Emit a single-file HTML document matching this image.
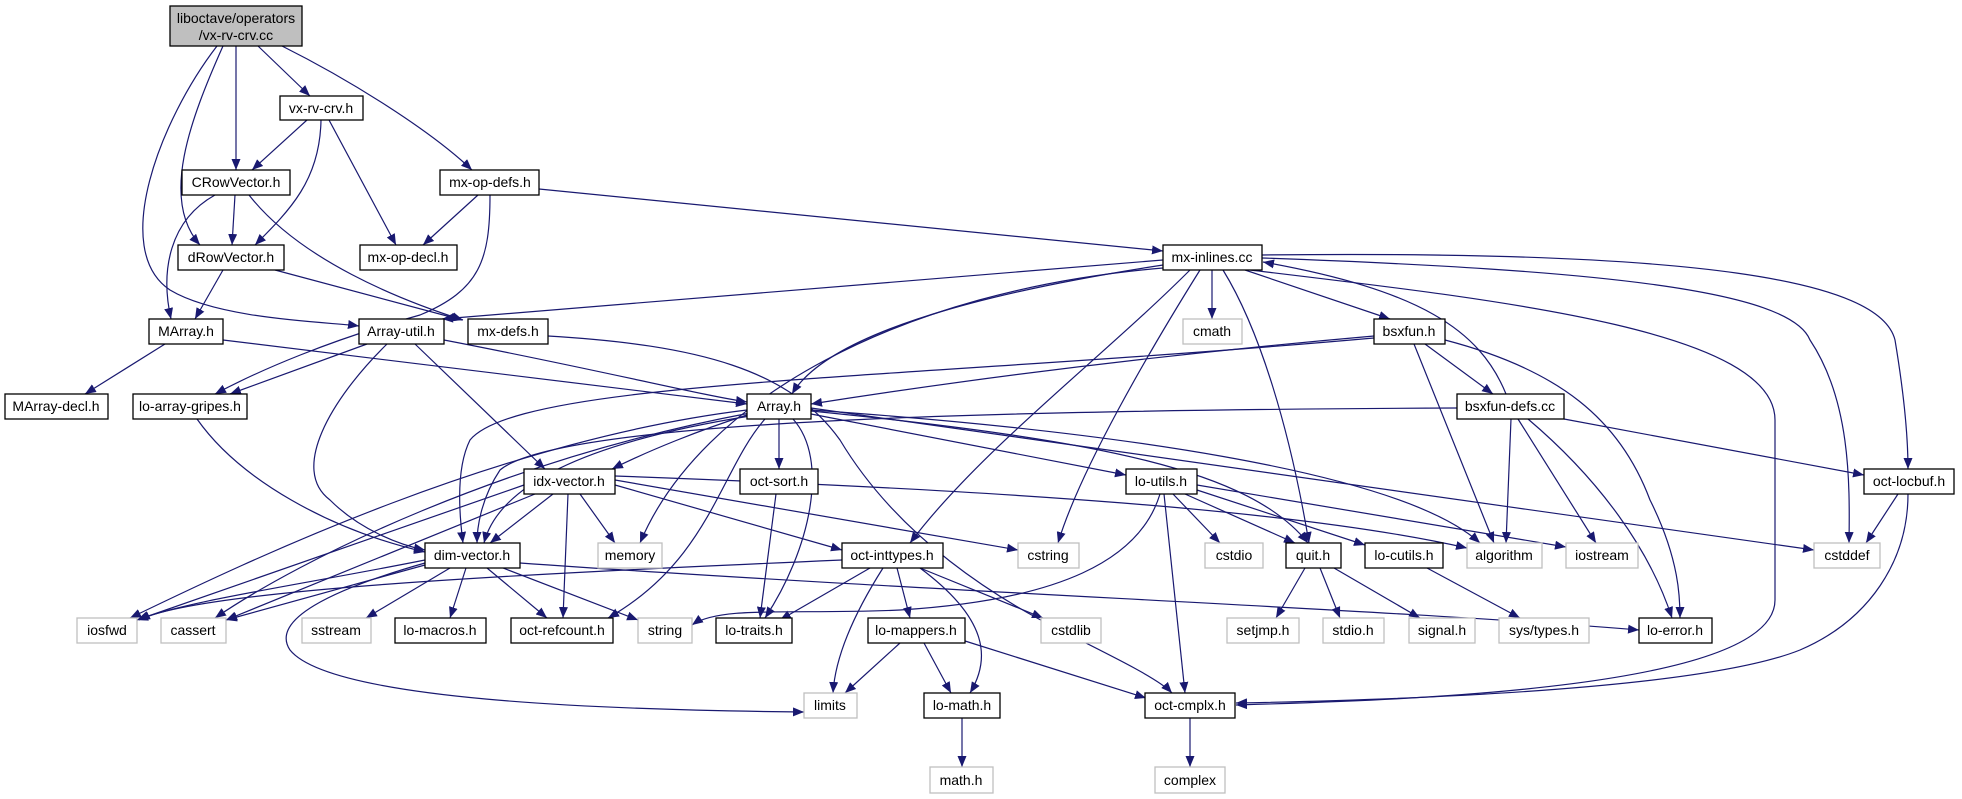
<!DOCTYPE html>
<html><head><meta charset="utf-8"><style>
html,body{margin:0;padding:0;background:#fff;}
svg{display:block;}
text{font-family:"Liberation Sans",sans-serif;font-size:14px;fill:#000;text-anchor:middle;}
.n{fill:#fff;stroke:#000;stroke-width:1.3;}
.g{fill:#fff;stroke:#bfbfbf;stroke-width:1.3;}
.e{fill:none;stroke:#191970;stroke-width:1.2;marker-end:url(#a);}
</style></head><body>
<svg width="1962" height="799" viewBox="0 0 1962 799" xmlns="http://www.w3.org/2000/svg">
<defs><marker id="a" markerUnits="userSpaceOnUse" markerWidth="12" markerHeight="9" refX="11" refY="4.5" orient="auto"><path d="M0,0 L11,4.5 L0,9 z" fill="#191970"/></marker></defs>
<g>
<path class="e" d="M258,46 L310,96"/>
<path class="e" d="M236,46 L236,170"/>
<path class="e" d="M223,46 C190,120 160,200 200,245"/>
<path class="e" d="M217,46 C160,120 110,250 170,290 C220,320 330,322 359,326"/>
<path class="e" d="M282,46 C350,80 430,130 472,170"/>
<path class="e" d="M307,120 L252,170"/>
<path class="e" d="M321,120 C320,180 290,210 255,245"/>
<path class="e" d="M329,120 L396,245"/>
<path class="e" d="M235,195 L232,245"/>
<path class="e" d="M215,195 C170,220 160,270 171,319"/>
<path class="e" d="M249,195 C300,260 400,300 463,320"/>
<path class="e" d="M478,195 L423,245"/>
<path class="e" d="M539,189 L1163,251"/>
<path class="e" d="M490,195 C490,260 480,290 420,315 C330,340 260,370 215,394"/>
<path class="e" d="M223,270 L195,319"/>
<path class="e" d="M275,270 L462,320"/>
<path class="e" d="M165,344 L85,394"/>
<path class="e" d="M223,340 L747,404"/>
<path class="e" d="M444,340 C600,370 700,395 747,402"/>
<path class="e" d="M367,344 L230,394"/>
<path class="e" d="M387,344 C330,400 290,470 330,500 C360,530 400,545 425,550"/>
<path class="e" d="M415,344 L545,469"/>
<path class="e" d="M548,336 C700,345 790,370 840,440 C900,540 1000,600 1060,630 C1120,660 1160,680 1172,693"/>
<path class="e" d="M1163,260 L442,319"/>
<path class="e" d="M1163,265 C1000,290 830,330 792,394"/>
<path class="e" d="M1163,268 C900,290 700,400 640,543"/>
<path class="e" d="M1212,270 L1212,319"/>
<path class="e" d="M1245,270 L1390,319"/>
<path class="e" d="M1200,270 C1150,350 1080,470 1058,543"/>
<path class="e" d="M1190,270 C1100,360 980,450 910,543"/>
<path class="e" d="M1223,270 C1260,330 1290,430 1309,543"/>
<path class="e" d="M1250,270 C1500,300 1775,330 1775,420 L1775,600 C1775,690 1400,700 1236,705"/>
<path class="e" d="M1262,258 C1600,270 1790,290 1810,340 C1850,400 1850,480 1849,543"/>
<path class="e" d="M1262,255 C1700,250 1880,280 1895,340 C1905,400 1908,440 1908,469"/>
<path class="e" d="M1506,394 C1480,330 1420,290 1263,262"/>
<path class="e" d="M1374,336 C1100,360 900,390 811,404"/>
<path class="e" d="M1374,338 C900,380 520,380 470,440 C455,470 460,520 463,543"/>
<path class="e" d="M1425,344 L1493,394"/>
<path class="e" d="M1414,344 L1494,543"/>
<path class="e" d="M1445,340 C1560,370 1620,420 1650,500 C1680,560 1680,600 1680,618"/>
<path class="e" d="M1457,408 C1000,410 560,420 500,470 C480,500 477,530 477,543"/>
<path class="e" d="M1511,419 L1506,543"/>
<path class="e" d="M1518,419 L1596,543"/>
<path class="e" d="M1528,419 C1600,480 1650,550 1672,618"/>
<path class="e" d="M1564,419 L1864,475"/>
<path class="e" d="M747,415 C700,430 650,450 612,469"/>
<path class="e" d="M750,416 C600,440 500,480 484,543"/>
<path class="e" d="M747,410 C500,440 250,560 130,618"/>
<path class="e" d="M750,413 C500,460 300,560 215,618"/>
<path class="e" d="M779,419 L779,469"/>
<path class="e" d="M793,419 C830,460 810,550 765,618"/>
<path class="e" d="M765,419 C720,470 710,560 608,618"/>
<path class="e" d="M811,414 L1126,475"/>
<path class="e" d="M811,411 C1100,440 1250,470 1308,543"/>
<path class="e" d="M811,410 C1100,430 1400,470 1480,543"/>
<path class="e" d="M811,408 L1814,550"/>
<path class="e" d="M615,480 L1018,550"/>
<path class="e" d="M615,476 C1000,490 1300,510 1467,548"/>
<path class="e" d="M615,485 L842,550"/>
<path class="e" d="M524,485 L137,620"/>
<path class="e" d="M535,494 L226,620"/>
<path class="e" d="M553,494 L490,543"/>
<path class="e" d="M568,494 L563,618"/>
<path class="e" d="M580,494 L615,543"/>
<path class="e" d="M1160,494 C1140,560 1060,600 900,610 C800,615 720,605 692,625"/>
<path class="e" d="M1173,494 L1220,543"/>
<path class="e" d="M1185,494 L1295,543"/>
<path class="e" d="M1197,490 L1365,545"/>
<path class="e" d="M1197,485 L1566,547"/>
<path class="e" d="M1164,494 L1185,693"/>
<path class="e" d="M425,560 C300,585 190,600 137,620"/>
<path class="e" d="M425,565 L226,620"/>
<path class="e" d="M450,568 L366,618"/>
<path class="e" d="M466,568 L450,618"/>
<path class="e" d="M487,568 L547,618"/>
<path class="e" d="M503,568 L638,620"/>
<path class="e" d="M425,563 C330,590 270,620 290,650 C330,700 600,710 804,712"/>
<path class="e" d="M520,563 C900,590 1400,610 1639,630"/>
<path class="e" d="M842,560 C500,575 200,590 139,620"/>
<path class="e" d="M870,568 L780,620"/>
<path class="e" d="M883,568 C850,620 835,660 833,693"/>
<path class="e" d="M897,568 L910,618"/>
<path class="e" d="M920,568 C990,620 990,660 970,693"/>
<path class="e" d="M920,568 L1043,618"/>
<path class="e" d="M776,494 L760,618"/>
<path class="e" d="M900,643 L845,693"/>
<path class="e" d="M924,643 L951,693"/>
<path class="e" d="M965,641 L1146,698"/>
<path class="e" d="M962,718 L962,767"/>
<path class="e" d="M1190,718 L1190,767"/>
<path class="e" d="M1305,568 L1276,618"/>
<path class="e" d="M1320,568 L1340,618"/>
<path class="e" d="M1334,568 L1420,618"/>
<path class="e" d="M1427,568 L1520,618"/>
<path class="e" d="M1898,494 L1866,543"/>
<path class="e" d="M1908,494 C1908,560 1870,620 1800,650 C1700,690 1400,700 1236,703"/>
<path class="e" d="M197,419 C240,480 330,530 425,552"/>
</g>
<g>
<rect x="170" y="6" width="132" height="40" fill="#bfbfbf" stroke="#000" stroke-width="1.3"/>
<text x="236" y="23">liboctave/operators</text><text x="236" y="40">/vx-rv-crv.cc</text>
<rect class="n" x="280" y="96" width="83" height="24"/><text x="321" y="113">vx-rv-crv.h</text>
<rect class="n" x="182" y="170" width="108" height="25"/><text x="236" y="187">CRowVector.h</text>
<rect class="n" x="440" y="170" width="99" height="25"/><text x="490" y="187">mx-op-defs.h</text>
<rect class="n" x="178" y="245" width="106" height="25"/><text x="231" y="262">dRowVector.h</text>
<rect class="n" x="360" y="245" width="97" height="25"/><text x="408" y="262">mx-op-decl.h</text>
<rect class="n" x="1163" y="245" width="99" height="25"/><text x="1212" y="262">mx-inlines.cc</text>
<rect class="n" x="149" y="319" width="74" height="25"/><text x="186" y="336">MArray.h</text>
<rect class="n" x="359" y="319" width="85" height="25"/><text x="401" y="336">Array-util.h</text>
<rect class="n" x="468" y="319" width="80" height="25"/><text x="508" y="336">mx-defs.h</text>
<rect class="g" x="1183" y="319" width="59" height="25"/><text x="1212" y="336">cmath</text>
<rect class="n" x="1374" y="319" width="71" height="25"/><text x="1409" y="336">bsxfun.h</text>
<rect class="n" x="5" y="394" width="103" height="25"/><text x="56" y="411">MArray-decl.h</text>
<rect class="n" x="133" y="394" width="114" height="25"/><text x="190" y="411">lo-array-gripes.h</text>
<rect class="n" x="747" y="394" width="64" height="25"/><text x="779" y="411">Array.h</text>
<rect class="n" x="1457" y="394" width="107" height="25"/><text x="1510" y="411">bsxfun-defs.cc</text>
<rect class="n" x="524" y="469" width="91" height="25"/><text x="569" y="486">idx-vector.h</text>
<rect class="n" x="740" y="469" width="78" height="25"/><text x="779" y="486">oct-sort.h</text>
<rect class="n" x="1126" y="469" width="71" height="25"/><text x="1161" y="486">lo-utils.h</text>
<rect class="n" x="1864" y="469" width="90" height="25"/><text x="1909" y="486">oct-locbuf.h</text>
<rect class="n" x="425" y="543" width="95" height="25"/><text x="472" y="560">dim-vector.h</text>
<rect class="g" x="598" y="543" width="64" height="25"/><text x="630" y="560">memory</text>
<rect class="n" x="842" y="543" width="101" height="25"/><text x="892" y="560">oct-inttypes.h</text>
<rect class="g" x="1018" y="543" width="61" height="25"/><text x="1048" y="560">cstring</text>
<rect class="g" x="1205" y="543" width="58" height="25"/><text x="1234" y="560">cstdio</text>
<rect class="n" x="1286" y="543" width="55" height="25"/><text x="1313" y="560">quit.h</text>
<rect class="n" x="1365" y="543" width="78" height="25"/><text x="1404" y="560">lo-cutils.h</text>
<rect class="g" x="1467" y="543" width="75" height="25"/><text x="1504" y="560">algorithm</text>
<rect class="g" x="1566" y="543" width="72" height="25"/><text x="1602" y="560">iostream</text>
<rect class="g" x="1814" y="543" width="66" height="25"/><text x="1847" y="560">cstddef</text>
<rect class="g" x="77" y="618" width="60" height="25"/><text x="107" y="635">iosfwd</text>
<rect class="g" x="161" y="618" width="65" height="25"/><text x="193" y="635">cassert</text>
<rect class="g" x="302" y="618" width="69" height="25"/><text x="336" y="635">sstream</text>
<rect class="n" x="395" y="618" width="91" height="25"/><text x="440" y="635">lo-macros.h</text>
<rect class="n" x="511" y="618" width="102" height="25"/><text x="562" y="635">oct-refcount.h</text>
<rect class="g" x="638" y="618" width="54" height="25"/><text x="665" y="635">string</text>
<rect class="n" x="716" y="618" width="76" height="25"/><text x="754" y="635">lo-traits.h</text>
<rect class="n" x="868" y="618" width="97" height="25"/><text x="916" y="635">lo-mappers.h</text>
<rect class="g" x="1041" y="618" width="60" height="25"/><text x="1071" y="635">cstdlib</text>
<rect class="g" x="1227" y="618" width="72" height="25"/><text x="1263" y="635">setjmp.h</text>
<rect class="g" x="1323" y="618" width="61" height="25"/><text x="1353" y="635">stdio.h</text>
<rect class="g" x="1409" y="618" width="66" height="25"/><text x="1442" y="635">signal.h</text>
<rect class="g" x="1499" y="618" width="90" height="25"/><text x="1544" y="635">sys/types.h</text>
<rect class="n" x="1639" y="618" width="73" height="25"/><text x="1675" y="635">lo-error.h</text>
<rect class="g" x="804" y="693" width="53" height="25"/><text x="830" y="710">limits</text>
<rect class="n" x="924" y="693" width="76" height="25"/><text x="962" y="710">lo-math.h</text>
<rect class="n" x="1145" y="693" width="90" height="25"/><text x="1190" y="710">oct-cmplx.h</text>
<rect class="g" x="930" y="767" width="63" height="26"/><text x="961" y="785">math.h</text>
<rect class="g" x="1155" y="767" width="70" height="26"/><text x="1190" y="785">complex</text>
</g>
</svg>
</body></html>
